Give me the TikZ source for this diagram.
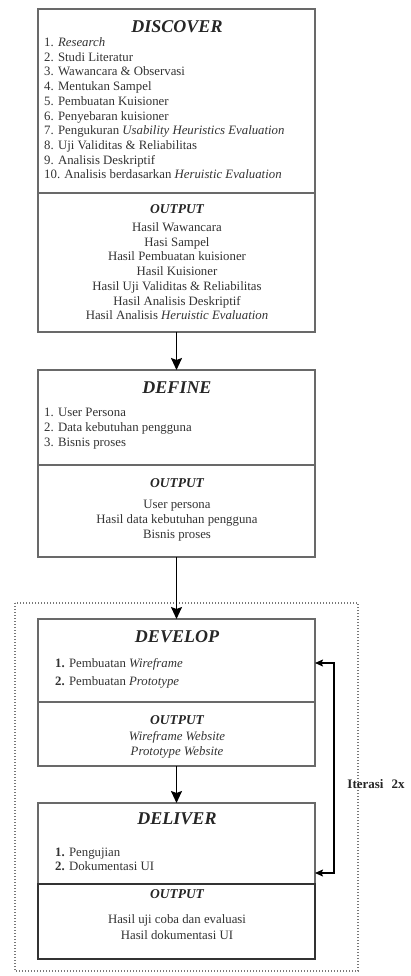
\documentclass[tikz,border=0pt]{standalone}
\usepackage{fontspec}
\setmainfont{Liberation Serif}
\usetikzlibrary{arrows.meta, positioning, calc}
\definecolor{BoxLine}{RGB}{105,105,105}
\definecolor{BoxText}{RGB}{50,50,50}
\definecolor{FrameLine}{RGB}{120,120,120}

\begin{document}
\begin{tikzpicture}[x=1pt,y=-1pt,
  stagebox/.style={draw=BoxLine, line width=1.2pt, minimum width=277pt,
    anchor=north west, inner sep=0pt, outer sep=0pt},
  stagetitle/.style={font=\fontsize{18}{20}\selectfont\bfseries\itshape, text=black!85},
  outtitle/.style={font=\fontsize{13.5}{15}\selectfont\bfseries\itshape, text=black!85},
  itemlist/.style={align=left, anchor=north west, inner sep=0pt,
    font=\fontsize{12.8}{14.7}\selectfont, text=BoxText},
  outlist/.style={align=center, anchor=north, inner sep=0pt,
    font=\fontsize{12.8}{14.7}\selectfont, text=BoxText},
  flow/.style={-{Stealth[length=12pt,width=11pt,inset=2pt]}, line width=1.7pt},
  iterflow/.style={{Stealth[length=8pt,width=7pt,inset=1.5pt]}-{Stealth[length=8pt,width=7pt,inset=1.5pt]},
    line width=1.3pt},
]
  \path[use as bounding box] (0,0) rectangle (410,976);

  % iteration frame
  \draw[FrameLine, line width=1.3pt, dash pattern=on 1.4pt off 1.6pt] (15,603) rectangle (358,971);

  % DISCOVER
  \node[stagebox, minimum height=184pt] (discoverTop) at (38,9) {};
  \node[stagebox, minimum height=139pt, below=0pt of discoverTop] (discoverOut) {};
  \node[stagetitle] (discoverTitle) at (177,27) {DISCOVER};
  \node[itemlist] (discoverList) at (44,37.5) {1. \textit{Research}\\
    2. Studi Literatur\\
    3. Wawancara \& Observasi\\
    4. Mentukan Sampel\\
    5. Pembuatan Kuisioner\\
    6. Penyebaran kuisioner\\
    7. Pengukuran \textit{Usability Heuristics Evaluation}\\
    8. Uji Validitas \& Reliabilitas\\
    9. Analisis Deskriptif\\
    10. Analisis berdasarkan \textit{Heruistic Evaluation}};
  \node[outtitle] (discoverOutTitle) at (177,209) {OUTPUT};
  \node[outlist] (discoverOutList) at (177,222.5) {Hasil Wawancara\\
    Hasi Sampel\\
    Hasil Pembuatan kuisioner\\
    Hasil Kuisioner\\
    Hasil Uji Validitas \& Reliabilitas\\
    Hasil Analisis Deskriptif\\
    Hasil Analisis \textit{Heruistic Evaluation}};

  % DEFINE
  \node[stagebox, minimum height=95pt] (defineTop) at (38,370) {};
  \node[stagebox, minimum height=92pt, below=0pt of defineTop] (defineOut) {};
  \node[stagetitle] (defineTitle) at (177,388) {DEFINE};
  \node[itemlist, font=\fontsize{12.8}{15}\selectfont] (defineList) at (44,407.5) {1. User Persona\\
    2. Data kebutuhan pengguna\\
    3. Bisnis proses};
  \node[outtitle] (defineOutTitle) at (177,483) {OUTPUT};
  \node[outlist, font=\fontsize{12.8}{15}\selectfont] (defineOutList) at (177,499.5) {User persona\\
    Hasil data kebutuhan pengguna\\
    Bisnis proses};

  % DEVELOP
  \node[stagebox, minimum height=83pt] (developTop) at (38,619) {};
  \node[stagebox, minimum height=64pt, below=0pt of developTop] (developOut) {};
  \node[stagetitle] (developTitle) at (177,637) {DEVELOP};
  \node[itemlist, font=\fontsize{12.8}{18}\selectfont] (developList) at (55,658.5) {\textbf{1.} Pembuatan \textit{Wireframe}\\
    \textbf{2.} Pembuatan \textit{Prototype}};
  \node[outtitle] (developOutTitle) at (177,720) {OUTPUT};
  \node[outlist, font=\fontsize{12.8}{15}\selectfont\itshape] (developOutList) at (177,731.5) {Wireframe Website\\
    Prototype Website};

  % DELIVER
  \node[stagebox, minimum height=81pt] (deliverTop) at (38,803) {};
  \node[stagebox, minimum height=75pt, below=0pt of deliverTop, draw=black!80] (deliverOut) {};
  \node[stagetitle] (deliverTitle) at (177,819) {DELIVER};
  \node[itemlist, font=\fontsize{12.8}{14.5}\selectfont] (deliverList) at (55,847.5) {\textbf{1.} Pengujian\\
    \textbf{2.} Dokumentasi UI};
  \node[outtitle] (deliverOutTitle) at (177,894) {OUTPUT};
  \node[outlist, font=\fontsize{12.8}{16}\selectfont] (deliverOutList) at (177,914.5) {Hasil uji coba dan evaluasi\\
    Hasil dokumentasi UI};

  % flow between stages
  \draw[flow] (discoverOut.south) -- (defineTop.north);
  \draw[flow] (defineOut.south) -- (developTop.north);
  \draw[flow] (developOut.south) -- (deliverTop.north);

  % iteration loop
  \coordinate (iterTop) at (334,663);
  \coordinate (iterBot) at (334,873);
  \draw[iterflow] (iterTop -| developTop.east) -- (iterTop) -- (iterBot) -- (iterBot -| deliverTop.east);
  \node[font=\fontsize{13}{15}\selectfont\bfseries, text=black!85] (iterLabel) at (376,784) {Iterasi\hspace{8pt}2x};
\end{tikzpicture}
\end{document}
